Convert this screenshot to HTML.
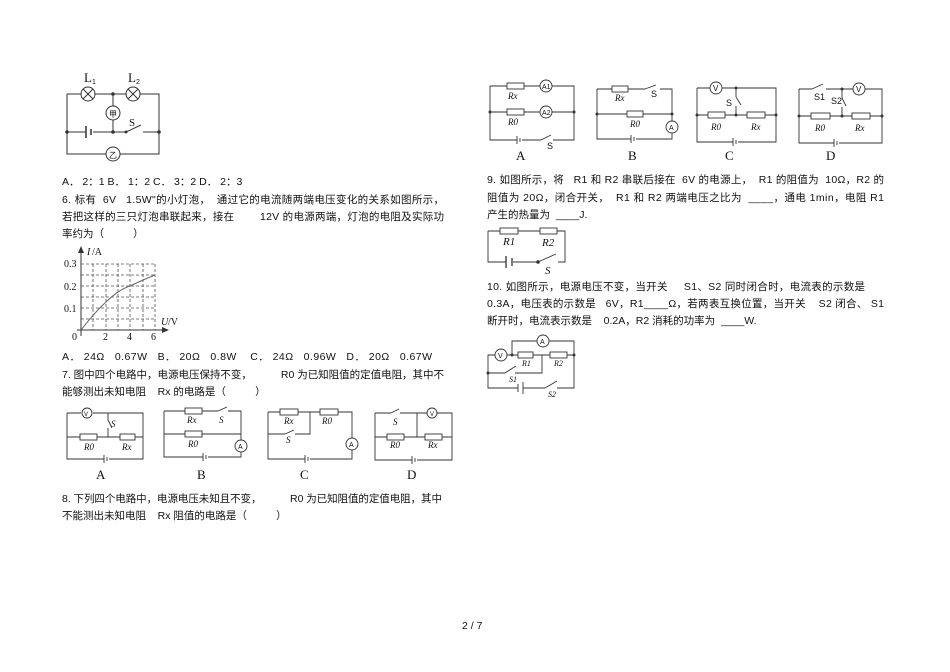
<!DOCTYPE html>
<html><head><meta charset="utf-8"><style>
body{margin:0;background:#fff}
svg{display:block}
text{font-family:"Liberation Sans","Noto Sans CJK SC",sans-serif;font-size:10.5px;fill:#111;white-space:pre}
.s{font-family:"Liberation Serif",serif;font-style:italic;font-size:9px}
.L{font-family:"Liberation Serif",serif;font-size:13px}
</style></head><body>
<svg width="950" height="672" viewBox="0 0 950 672" xmlns="http://www.w3.org/2000/svg" xml:space="preserve">
<g fill="none" stroke="#333" stroke-width="1">
<path d="M67 94H81M95 94H126M140 94H159V154H120M106 154H67V94M67 132H86M93 132H126M143 132H159M113 94V106M113 120V132"/>
<path d="M86 126V138M91 129V135" stroke-width="1.5"/>
<path d="M126 132L141 125"/>
<circle cx="88" cy="94" r="7"/><path d="M83 89L93 99M93 89L83 99"/>
<circle cx="133" cy="94" r="7"/><path d="M128 89L138 99M138 89L128 99"/>
<circle cx="113" cy="113" r="7"/><circle cx="113" cy="154" r="7"/>
</g>
<g fill="#333"><circle cx="113" cy="94" r="1.8"/><circle cx="113" cy="132" r="1.8"/><circle cx="67" cy="132" r="1.8"/><circle cx="159" cy="132" r="1.8"/><circle cx="126" cy="132" r="1.5"/></g>
<text x="84" y="82" class="L">L</text><text x="92" y="84" style="font-size:7px">1</text>
<text x="128" y="82" class="L">L</text><text x="136" y="84" style="font-size:7px">2</text>
<text x="109" y="117" style="font-size:8px">甲</text><text x="109" y="158" style="font-size:8px">乙</text>
<text x="129" y="126" class="L" style="font-size:11px">S</text>

<text x="62" y="185">A． 2：1 B． 1：2 C． 3：2 D． 2：3</text>
<text x="62" y="203" textLength="382">6. 标有  6V   1.5W"的小灯泡，  通过它的电流随两端电压变化的关系如图所示，</text>
<text x="62" y="220" textLength="382">若把这样的三只灯泡串联起来，接在        12V 的电源两端，灯泡的电阻及实际功</text>
<text x="62" y="237">率约为（          ）</text>

<g fill="none" stroke="#555" stroke-width="0.8" stroke-dasharray="3,2">
<path d="M93 264V330M106 264V330M118 264V330M130 264V330M143 264V330M155 264V330"/>
<path d="M81 264H155M81 275H155M81 286H155M81 297H155M81 308H155M81 319H155"/>
</g>
<path d="M81 336V250M77 330H165" stroke="#333" fill="none"/>
<path d="M81 246L78 253H84Z M169 330L162 327V333Z" fill="#333"/>
<path d="M81 330Q95 312 106 302Q118 290 130 286Q145 279 155 275" stroke="#666" fill="none"/>
<text x="87" y="255" class="s" style="font-size:10px">I</text><text x="92" y="255" style="font-family:'Liberation Serif';font-size:10px">/A</text>
<text x="64" y="267" style="font-family:'Liberation Serif';font-size:10px">0.3</text>
<text x="64" y="290" style="font-family:'Liberation Serif';font-size:10px">0.2</text>
<text x="64" y="312" style="font-family:'Liberation Serif';font-size:10px">0.1</text>
<text x="72" y="340" style="font-family:'Liberation Serif';font-size:10px">0</text>
<text x="103" y="340" style="font-family:'Liberation Serif';font-size:10px">2</text>
<text x="127" y="340" style="font-family:'Liberation Serif';font-size:10px">4</text>
<text x="151" y="340" style="font-family:'Liberation Serif';font-size:10px">6</text>
<text x="161" y="325" class="s" style="font-size:10px">U</text><text x="168" y="325" style="font-family:'Liberation Serif';font-size:10px">/V</text>

<text x="62" y="360" textLength="370">A． 24Ω   0.67W   B． 20Ω   0.8W    C． 24Ω   0.96W   D． 20Ω   0.67W</text>
<text x="62" y="378" textLength="382">7. 图中四个电路中，电源电压保持不变，          R0 为已知阻值的定值电阻，其中不</text>
<text x="62" y="395">能够测出未知电阻    Rx 的电路是（          ）</text>

<g fill="none" stroke="#333" stroke-width="0.9">
<path d="M67 413H81M93 413H143V459H109M104 459H67V413M67 437H80M97 437H120M135 437H143M108 413V420M108 428V437"/>
<path d="M108 420L112 428"/>
<rect x="80" y="434" width="17" height="6"/><rect x="120" y="434" width="15" height="6"/>
<circle cx="87" cy="413" r="5"/>
<path d="M104 455V463M107 457V461"/>
<path d="M164 411H185M202 411H218M228 411H241V440M241 452V457H208M203 457H164V411M164 434H185M202 434H241"/>
<path d="M218 411L227 407"/>
<rect x="185" y="408" width="17" height="6"/><rect x="185" y="431" width="17" height="6"/>
<circle cx="241" cy="446" r="6"/><path d="M203 453V461M206 455V459"/>
<path d="M268 412H280M298 412H320M338 412H352V438M352 450V459H310M305 459H268V412M310 412V434H295M285 434H268"/>
<path d="M285 434L294 430"/>
<rect x="280" y="409" width="18" height="6"/><rect x="320" y="409" width="18" height="6"/>
<circle cx="352" cy="444" r="6"/><path d="M305 455V463M308 457V461"/>
<path d="M375 413H391M400 413H427M437 413H452V460H417M412 460H375V413M375 437H387M404 437H425M442 437H452M417 413V437"/>
<path d="M391 413L399 409"/>
<rect x="387" y="434" width="17" height="6"/><rect x="425" y="434" width="17" height="6"/>
<circle cx="432" cy="413" r="5"/><path d="M412 456V464M415 458V462"/>
</g>
<text x="111" y="427" class="s">S</text><text x="84" y="450" class="s">R0</text><text x="122" y="450" class="s">Rx</text>
<text x="84" y="416" style="font-size:6px">V</text>
<text x="187" y="423" class="s">Rx</text><text x="219" y="423" class="s">S</text><text x="188" y="447" class="s">R0</text><text x="238" y="449" style="font-size:7px">A</text>
<text x="284" y="424" class="s">Rx</text><text x="322" y="424" class="s">R0</text><text x="286" y="443" class="s">S</text><text x="349" y="447" style="font-size:7px">A</text>
<text x="393" y="425" class="s">S</text><text x="390" y="448" class="s">R0</text><text x="428" y="448" class="s">Rx</text><text x="430" y="416" style="font-size:6px">V</text>
<text x="96" y="479" class="L">A</text><text x="197" y="479" class="L">B</text><text x="300" y="479" class="L">C</text><text x="407" y="479" class="L">D</text>

<text x="62" y="502" textLength="380">8. 下列四个电路中，电源电压未知且不变，          R0 为已知阻值的定值电阻，其中</text>
<text x="62" y="519">不能测出未知电阻    Rx 阻值的电路是（          ）</text>

<g fill="none" stroke="#333" stroke-width="0.9">
<path d="M490 86H507M524 86H540M552 86H574V140H553M541 140H522M517 140H490V86M490 112H507M524 112H540M552 112H574"/>
<path d="M541 140L551 135"/>
<rect x="507" y="83" width="17" height="6"/><rect x="507" y="109" width="17" height="6"/>
<circle cx="546" cy="86" r="6"/><circle cx="546" cy="112" r="6"/>
<path d="M517 136V144M520 138V142"/>
<path d="M597 89H612M628 89H645M660 89H672V121M672 133V139H636M631 139H597V89M597 114H627M643 114H672"/>
<path d="M645 89L656 85"/>
<rect x="612" y="86" width="16" height="6"/><rect x="627" y="111" width="16" height="6"/>
<circle cx="672" cy="127" r="6"/><path d="M631 135V143M634 137V141"/>
<path d="M697 88H710M722 88H776V142H738M733 142H697V88M697 115H708M725 115H747M765 115H776M736 88V97M736 106V115"/>
<path d="M736 97L741 105"/>
<rect x="708" y="112" width="17" height="6"/><rect x="747" y="112" width="18" height="6"/>
<circle cx="716" cy="88" r="6"/><path d="M733 138V146M736 140V144"/>
<path d="M799 89H812M826 89H853M865 89H882V143H839M834 143H799V89M799 116H811M830 116H852M870 116H882M842 89V98M842 107V116"/>
<path d="M812 89L823 84M842 98L846 106"/>
<rect x="811" y="113" width="19" height="6"/><rect x="852" y="113" width="18" height="6"/>
<circle cx="859" cy="89" r="6"/><path d="M834 139V147M837 141V145"/>
</g>
<g fill="#333">
<circle cx="490" cy="112" r="1.5"/><circle cx="574" cy="112" r="1.5"/><circle cx="597" cy="114" r="1.5"/><circle cx="672" cy="114" r="1.5"/>
<circle cx="697" cy="115" r="1.5"/><circle cx="776" cy="115" r="1.5"/><circle cx="736" cy="88" r="1.5"/><circle cx="736" cy="115" r="1.5"/>
<circle cx="799" cy="116" r="1.5"/><circle cx="882" cy="116" r="1.5"/><circle cx="842" cy="89" r="1.5"/><circle cx="842" cy="116" r="1.5"/>
</g>
<text x="508" y="99" class="s">Rx</text><text x="508" y="125" class="s">R0</text><text x="542" y="89" style="font-size:7px">A1</text><text x="542" y="115" style="font-size:7px">A2</text><text x="547" y="149" style="font-size:9px">S</text>
<text x="615" y="101" class="s">Rx</text><text x="651" y="97" style="font-size:9px">S</text><text x="630" y="127" class="s">R0</text><text x="669" y="130" style="font-size:7px">A</text>
<text x="713" y="91" style="font-size:8px">V</text><text x="726" y="106" style="font-size:9px">S</text><text x="711" y="130" class="s">R0</text><text x="751" y="130" class="s">Rx</text>
<text x="856" y="92" style="font-size:8px">V</text><text x="814" y="100" style="font-size:9px">S1</text><text x="831" y="104" style="font-size:9px">S2</text><text x="815" y="131" class="s">R0</text><text x="855" y="131" class="s">Rx</text>
<text x="516" y="160" class="L">A</text><text x="628" y="160" class="L">B</text><text x="725" y="160" class="L">C</text><text x="826" y="160" class="L">D</text>

<text x="487" y="183" textLength="397">9. 如图所示，将   R1 和 R2 串联后接在  6V 的电源上，  R1 的阻值为  10Ω，R2 的</text>
<text x="487" y="201" textLength="397">阻值为 20Ω，闭合开关，  R1 和 R2 两端电压之比为  ____，通电 1min，电阻 R1</text>
<text x="487" y="218">产生的热量为  ____J.</text>

<g fill="none" stroke="#333" stroke-width="0.9">
<path d="M488 231H500M518 231H540M557 231H565V262H558M538 262H513M506 262H488V231"/>
<path d="M538 262L556 254"/>
<rect x="500" y="228" width="18" height="6"/><rect x="540" y="228" width="17" height="6"/>
<path d="M506 256V268M512 258V266" stroke-width="1.3"/>
</g>
<circle cx="538" cy="262" r="1.8" fill="#333"/>
<text x="503" y="245" class="s" style="font-size:11px">R1</text><text x="542" y="246" class="s" style="font-size:11px">R2</text><text x="545" y="274" class="s" style="font-size:11px">S</text>

<text x="487" y="290" textLength="378">10. 如图所示，电源电压不变，当开关     S1、S2 同时闭合时，电流表的示数是</text>
<text x="487" y="307" textLength="397">0.3A，电压表的示数是   6V，R1____Ω，若两表互换位置，当开关    S2 闭合、 S1</text>
<text x="487" y="324">断开时，电流表示数是    0.2A，R2 消耗的功率为  ____W.</text>

<g fill="none" stroke="#333" stroke-width="0.9">
<path d="M495 355H488V388H518M523 388H545M557 388H574V341H549M537 341H512V355M507 355H518M533 355H550M567 355H574M488 373H505M515 373H542V355"/>
<path d="M505 373L516 366M545 388L557 381"/>
<rect x="518" y="352" width="15" height="6"/><rect x="550" y="352" width="17" height="6"/>
<circle cx="501" cy="355" r="6"/><circle cx="543" cy="341" r="6"/>
<path d="M518 384V392M523 382V394"/>
</g>
<circle cx="512" cy="355" r="1.5" fill="#333"/><circle cx="574" cy="355" r="1.5" fill="#333"/><circle cx="488" cy="373" r="1.5" fill="#333"/>
<text x="498" y="358" style="font-size:7px">V</text><text x="540" y="344" style="font-size:7px">A</text>
<text x="522" y="366" class="s" style="font-size:8px">R1</text><text x="554" y="366" class="s" style="font-size:8px">R2</text>
<text x="509" y="382" class="s" style="font-size:8px">S1</text><text x="548" y="397" class="s" style="font-size:8px">S2</text>

<text x="462" y="629">2 / 7</text>
</svg>
</body></html>
